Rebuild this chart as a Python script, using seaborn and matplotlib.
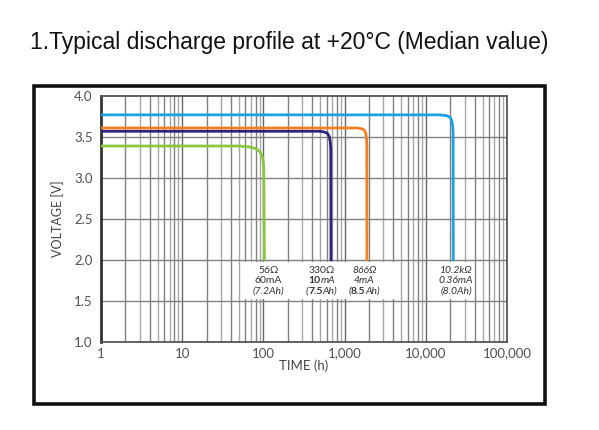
import numpy as np
import pandas as pd
import matplotlib
matplotlib.use("Agg")
import matplotlib.pyplot as plt
import matplotlib.patches as mpatches
import matplotlib.transforms as mtransforms
from matplotlib.ticker import FixedLocator, LogLocator, MultipleLocator, NullFormatter
import seaborn as sns

# ---- data ----
series_names = ["56Ω", "330Ω", "866Ω", "10.2kΩ"]
green_t = [1, 50, 66, 80, 91, 98, 101, 103]
green_v = [3.39, 3.39, 3.38, 3.36, 3.32, 3.25, 3.12, 2.0]
purple_t = [1, 500, 570, 620, 650, 666, 676, 680]
purple_v = [3.57, 3.57, 3.56, 3.54, 3.50, 3.44, 3.35, 2.0]
orange_t = [1, 1420, 1640, 1760, 1830, 1862, 1878, 1885]
orange_v = [3.61, 3.61, 3.60, 3.58, 3.54, 3.48, 3.40, 2.0]
blue_t = [1, 15000, 18000, 20000, 21000, 21500, 21700, 21800]
blue_v = [3.77, 3.77, 3.76, 3.74, 3.69, 3.62, 3.52, 2.0]
series_colors = ["#8cc63f", "#2e2279", "#f28023", "#1ba1e2"]

x_ticks = [1, 10, 100, 1000, 10000, 100000]
x_tick_labels = ["1", "10", "100", "1,000", "10,000", "100,000"]
y_ticks = [1.0, 1.5, 2.0, 2.5, 3.0, 3.5, 4.0]
y_tick_labels = ["1.0", "1.5", "2.0", "2.5", "3.0", "3.5", "4.0"]

rows = []
for name, ts, vs in zip(series_names, [green_t, purple_t, orange_t, blue_t],
                        [green_v, purple_v, orange_v, blue_v]):
    for i, (t, v) in enumerate(zip(ts, vs)):
        rows.append({"series": name, "order": i, "time": t, "voltage": v})
df = pd.DataFrame(rows)

sns.set_style("white")
plt.rcParams["font.family"] = ["Lato", "DejaVu Sans"]

W, H = 599, 430
fig = plt.figure(figsize=(W / 100, H / 100), dpi=100)
ax = fig.add_axes([101 / W, (H - 342) / H, 406 / W, 246 / H])

ax.set_xscale("log")
ax.set_xlim(1, 100000)
ax.set_ylim(1.0, 4.0)

# grid
for dec in range(0, 5):
    for m in range(2, 10):
        xv = m * 10 ** dec
        ax.axvline(xv, color="#a8a8a8" if m % 2 else "#808080", lw=1.0, zorder=0.5)
for dec in range(1, 5):
    ax.axvline(10 ** dec, color="#666666", lw=1.0, zorder=0.6)
for yv in [1.5, 2.0, 2.5, 3.0, 3.5]:
    ax.axhline(yv, color="#808080", lw=1.0, zorder=0.6)

# white annotation boxes (between 1.5 V and 2.0 V)
for x0, x1 in [(57.5, 267), (267, 4300), (11200, 38000)]:
    ax.add_patch(mpatches.Rectangle((x0, 1.52), x1 - x0, 0.46, facecolor="white",
                                    edgecolor="none", zorder=1))

sns.lineplot(data=df, x="time", y="voltage", hue="series", units="series",
             hue_order=series_names, palette=series_colors, estimator=None,
             sort=False, legend=False, lw=2.0, ax=ax, zorder=3)

ax.xaxis.set_major_locator(FixedLocator(x_ticks))
ax.set_xticklabels(x_tick_labels)
ax.xaxis.set_minor_locator(LogLocator(base=10, subs=np.arange(2, 10)))
ax.xaxis.set_minor_formatter(NullFormatter())
ax.yaxis.set_major_locator(FixedLocator(y_ticks))
ax.set_yticklabels(y_tick_labels)
ax.yaxis.set_minor_locator(MultipleLocator(0.05))
ax.tick_params(axis="x", which="both", length=0, labelsize=9.5, labelcolor="#505050", pad=4)
ax.tick_params(axis="y", which="major", direction="in", length=4, width=0.8,
               color="#555555", labelsize=9.5, labelcolor="#505050", pad=6)
ax.tick_params(axis="y", which="minor", direction="in", length=3, width=0.7, color="#666666")

for s in ax.spines.values():
    s.set_color("#555555")
    s.set_linewidth(1.3)
ax.spines["left"].set_color("#333333")
ax.spines["left"].set_linewidth(2.0)

ax.set_xlabel("TIME (h)", fontsize=9.5, color="#444444", labelpad=0)
ax.set_ylabel("VOLTAGE [V]", fontsize=9, color="#444444", labelpad=7)

# annotations: each line is a list of (text, style, weight) pieces, centred as a whole
fs = 7.5
tc = "#333333"
renderer = fig.canvas.get_renderer()

def put_line(x, y, pieces):
    texts = []
    for txt, style, weight in pieces:
        t = ax.text(x, y, txt, ha="left", va="center", fontsize=fs, color=tc,
                    style=style, weight=weight, zorder=4)
        texts.append(t)
    widths = [t.get_window_extent(renderer).width for t in texts]
    total = sum(widths)
    start = -total / 2
    for t, w in zip(texts, widths):
        t.set_transform(ax.transData + mtransforms.Affine2D().translate(start, 0))
        start += w

def block(x, rows3):
    for y, pieces in zip([1.87, 1.745, 1.62], rows3):
        put_line(x, y, pieces)

N, I, B = "normal", "italic", "bold"
block(115, [[("56Ω", N, N)], [("60mA", N, N)], [("(7.2Ah)", I, N)]])
block(520, [[("330Ω", N, N)], [("10", N, B), ("mA", I, N)],
            [("(", I, N), ("7.5", N, B), ("Ah)", I, N)]])
block(1750, [[("866Ω", I, N)], [("4mA", I, N)],
             [("(", I, N), ("8.5", N, B), ("Ah)", I, N)]])
block(23500, [[("10.2kΩ", I, N)], [("0.36mA", I, N)], [("(8.0Ah)", I, N)]])

# outer frame
fig.patches.append(mpatches.Rectangle((34 / W, (H - 404) / H), (545 - 34) / W, (404 - 86) / H,
                                      transform=fig.transFigure, fill=False,
                                      edgecolor="#111111", lw=2.6))

fig.text(30 / W, 1 - 42 / H, "1.Typical discharge profile at +20°C (Median value)",
         fontsize=16.5, family=["Liberation Sans", "DejaVu Sans"], color="#111111",
         ha="left", va="center")

fig.savefig("out.png", dpi=100)
